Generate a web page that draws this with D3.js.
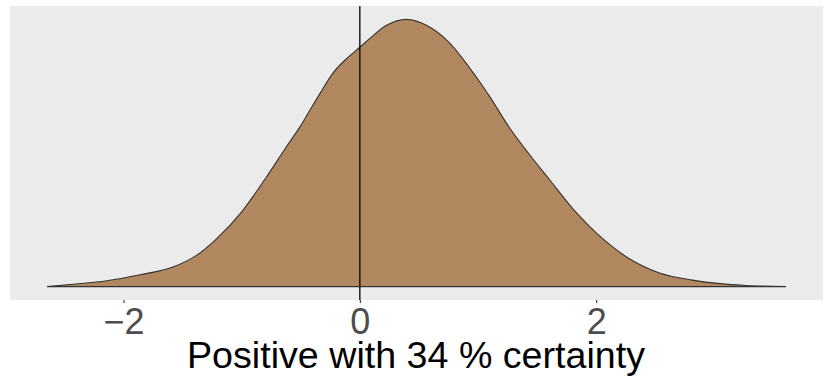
<!DOCTYPE html>
<html>
<head>
<meta charset="utf-8">
<script src="https://cdn.jsdelivr.net/npm/d3@7"></script>
<style>
  html, body { margin: 0; padding: 0; background: #ffffff; }
  svg { display: block; }
</style>
</head>
<body>
<svg id="chart" width="830" height="380"></svg>
<script>
// Density curve
const xValues = [-2.648, -2.426, -2.141, -1.860, -1.581, -1.380, -1.211, -1.000, -0.789, -0.620, -0.507, -0.423, -0.338, -0.226, -0.112, 0.000, 0.085, 0.226, 0.395, 0.564, 0.761, 0.930, 1.014, 1.099, 1.268, 1.437, 1.606, 1.834, 2.003, 2.257, 2.536, 2.815, 3.050, 3.269, 3.607];
const densityValues = [0.000, 0.004, 0.010, 0.020, 0.033, 0.053, 0.081, 0.126, 0.185, 0.236, 0.269, 0.297, 0.325, 0.360, 0.384, 0.403, 0.418, 0.440, 0.450, 0.440, 0.410, 0.368, 0.345, 0.320, 0.267, 0.222, 0.180, 0.124, 0.090, 0.050, 0.023, 0.011, 0.005, 0.002, 0.000];
const tickValues = [-2, 0, 2];
const tickLabels = ["\u22122", "0", "2"];
const refLine = 0;
const axisTitle = "Positive with 34 % certainty";

const data = xValues.map((x, i) => ({ x: x, y: densityValues[i] }));

const svg = d3.select("#chart");
const panel = { left: 10, right: 823, top: 6, bottom: 300 };

const xMin = d3.min(xValues), xMax = d3.max(xValues);
const xPad = (xMax - xMin) * 0.05;
const x = d3.scaleLinear().domain([xMin - xPad, xMax + xPad]).range([panel.left, panel.right]);
const yMax = d3.max(densityValues);
const y = d3.scaleLinear().domain([-0.05 * yMax, 1.05 * yMax]).range([panel.bottom, panel.top]);

svg.append("rect")
  .attr("x", panel.left).attr("y", panel.top)
  .attr("width", panel.right - panel.left).attr("height", panel.bottom - panel.top)
  .attr("fill", "#EBEBEB");

const area = d3.area().x(d => x(d.x)).y0(y(0)).y1(d => y(d.y)).curve(d3.curveMonotoneX);
svg.append("path").datum(data)
  .attr("d", area)
  .attr("fill", "#B0875F")
  .attr("stroke", "#333333")
  .attr("stroke-width", 1.1);

svg.append("line")
  .attr("x1", x(refLine)).attr("x2", x(refLine))
  .attr("y1", panel.top).attr("y2", panel.bottom)
  .attr("stroke", "#000000").attr("stroke-width", 1.3);

const axis = d3.axisBottom(x).tickValues(tickValues)
  .tickFormat((d, i) => tickLabels[i]).tickSize(3).tickPadding(5);
const gAxis = svg.append("g").attr("transform", `translate(0,${panel.bottom})`).call(axis);
gAxis.select(".domain").remove();
gAxis.selectAll(".tick line").attr("stroke", "#333333").attr("stroke-width", 1.1);
gAxis.selectAll(".tick text")
  .attr("fill", "#4D4D4D")
  .attr("font-family", "Liberation Sans, Arial, Helvetica, sans-serif")
  .attr("font-size", 36);

svg.append("text")
  .attr("x", 416)
  .attr("y", 367.5)
  .attr("text-anchor", "middle")
  .attr("font-family", "Liberation Sans, Arial, Helvetica, sans-serif")
  .attr("font-size", 36)
  .attr("textLength", 458)
  .attr("lengthAdjust", "spacingAndGlyphs")
  .attr("fill", "#000000")
  .text(axisTitle);
</script>
</body>
</html>
